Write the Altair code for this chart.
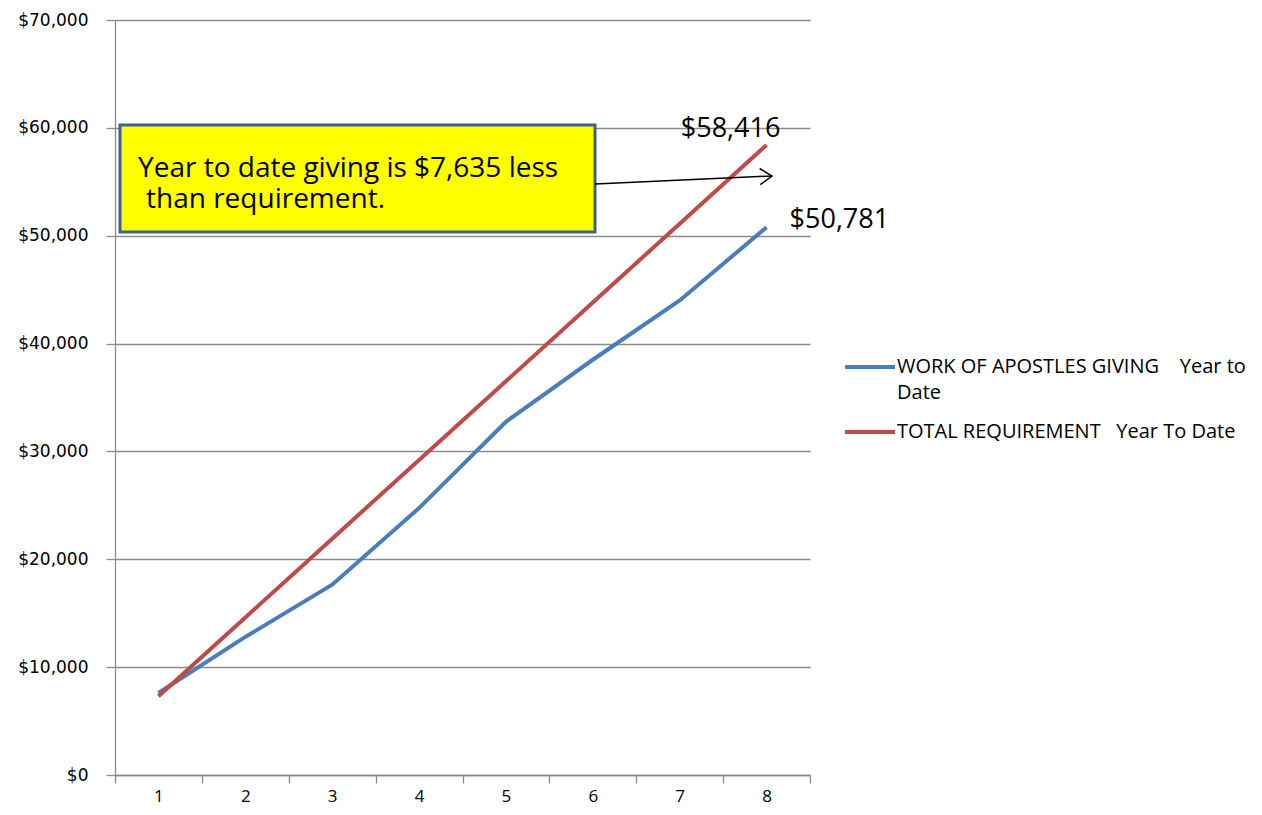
import altair as alt
import pandas as pd

periods = [1, 2, 3, 4, 5, 6, 7, 8]
giving = [7600, 12800, 17650, 24750, 32750, 38500, 44000, 50781]
requirement = [7302, 14604, 21906, 29208, 36510, 43812, 51114, 58416]
series_names = ["WORK OF APOSTLES GIVING    Year to Date", "TOTAL REQUIREMENT   Year To Date"]
series_colors = ["#4A7EBB", "#BE4B48"]
end_labels = ["$50,781", "$58,416"]
legend_lines = [["WORK OF APOSTLES GIVING\u00a0\u00a0\u00a0\u00a0Year to", "Date"],
                ["TOTAL REQUIREMENT\u00a0\u00a0\u00a0Year To Date"]]
note_lines = ["Year to date giving is $7,635 less", "than requirement."]

rows = []
for p, g, r in zip(periods, giving, requirement):
    rows.append({"period": p, "value": g, "series": series_names[0]})
    rows.append({"period": p, "value": r, "series": series_names[1]})
df = pd.DataFrame(rows)

W, H = 695, 755
GRID = "#8C8C8C"
TXT_FONT = "Open Sans"

x_enc = alt.X("period:O",
              scale=alt.Scale(type="band", paddingInner=0, paddingOuter=0),
              axis=alt.Axis(title=None, labelAngle=0, tickBand="extent", grid=False,
                            labelFont=TXT_FONT, labelFontSize=17, labelColor="#000000",
                            tickSize=8, tickColor=GRID, domainColor=GRID,
                            labelPadding=5, domainWidth=1.3, tickWidth=1.3))
y_enc = alt.Y("value:Q",
              scale=alt.Scale(domain=[0, 70000], nice=False),
              axis=alt.Axis(title=None, values=list(range(0, 70001, 10000)),
                            format="$,.0f", grid=True, gridColor=GRID, gridWidth=1.3,
                            labelFont="DejaVu Sans", labelFontSize=17, labelColor="#000000",
                            tickSize=9, tickColor=GRID, domainColor=GRID, domainWidth=1.3,
                            tickWidth=1.3, labelPadding=18, minExtent=100, maxExtent=100))
color_enc = alt.Color("series:N", scale=alt.Scale(domain=series_names, range=series_colors),
                      legend=None)

base = alt.Chart(df)
lines = base.mark_line(strokeWidth=4).encode(x=x_enc, y=y_enc, color=color_enc)

ends = pd.DataFrame({"period": [8, 8], "value": [giving[-1], requirement[-1]],
                     "label": end_labels})
lbl_blue = alt.Chart(ends.iloc[[0]]).mark_text(
    font=TXT_FONT, fontSize=27, align="left", baseline="alphabetic", dx=23, dy=1, color="#000000"
).encode(x="period:O", y="value:Q", text="label:N")
lbl_red = alt.Chart(ends.iloc[[1]]).mark_text(
    font=TXT_FONT, fontSize=27, align="center", baseline="alphabetic", dx=-36, dy=-8, color="#000000"
).encode(x="period:O", y="value:Q", text="label:N")

# annotation box
note_df = pd.DataFrame({"t": ["note"]})
box = alt.Chart(note_df).mark_rect(fill="#FFFF00", stroke="#3F5F8F", strokeWidth=3).encode(
    x=alt.value(5), x2=alt.value(480), y=alt.value(105), y2=alt.value(212))
note_text1 = alt.Chart(pd.DataFrame({"t": [note_lines[0]]})).mark_text(
    font=TXT_FONT, fontSize=28, align="left", baseline="alphabetic", color="#000000").encode(
    x=alt.value(23), y=alt.value(157), text="t:N")
note_text2 = alt.Chart(pd.DataFrame({"t": [note_lines[1]]})).mark_text(
    font=TXT_FONT, fontSize=28, align="left", baseline="alphabetic", color="#000000").encode(
    x=alt.value(31), y=alt.value(188), text="t:N")
arrow_line = alt.Chart(note_df).mark_rule(color="#000000", strokeWidth=1.5).encode(
    x=alt.value(480), x2=alt.value(657), y=alt.value(164), y2=alt.value(156))
arrow_head = alt.Chart(note_df).mark_point(
    shape="M-1,-0.67L0,0L-1,0.67", filled=False, stroke="#000000", strokeWidth=1.5,
    size=576, angle=357.4, opacity=1).encode(x=alt.value(657), y=alt.value(156))

# manual legend
legend_layers = []
ys = [347, 412]
for i in range(2):
    legend_layers.append(alt.Chart(note_df).mark_rule(color=series_colors[i], strokeWidth=4).encode(
        x=alt.value(730), x2=alt.value(780), y=alt.value(ys[i])))
    for j, ln in enumerate(legend_lines[i]):
        legend_layers.append(alt.Chart(pd.DataFrame({"t": [ln]})).mark_text(
            font=TXT_FONT, fontSize=20, align="left", baseline="middle", color="#000000").encode(
            x=alt.value(782), y=alt.value(ys[i] + 26 * j), text="t:N"))

chart = alt.layer(lines, lbl_blue, lbl_red, box, note_text1, note_text2, arrow_line, arrow_head,
                  *legend_layers).properties(
    width=W, height=H,
    padding={"left": 7, "top": 3, "right": 0, "bottom": 8}
).configure_view(stroke=None)

chart.save("out.html", embed_options={"renderer": "svg", "actions": False})
